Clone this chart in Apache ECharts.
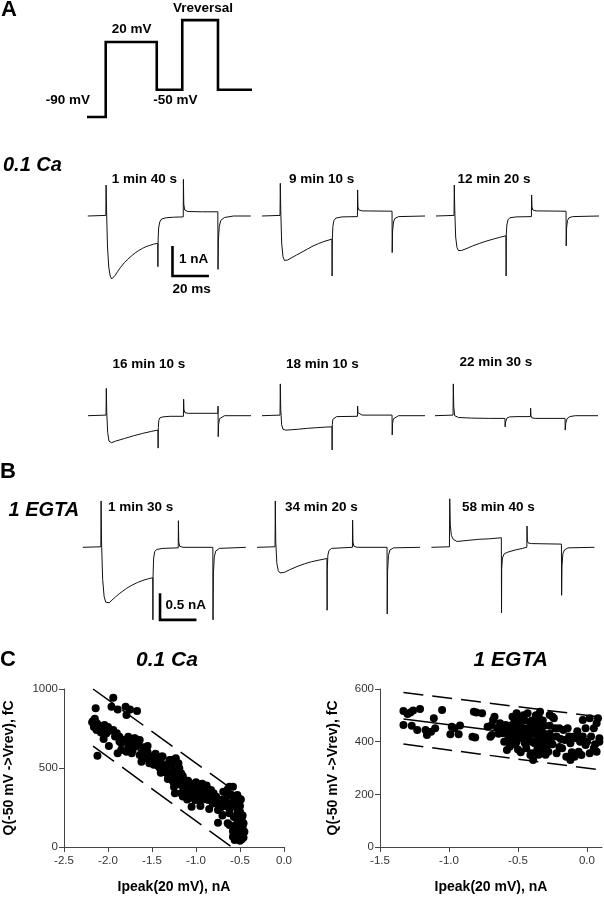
<!DOCTYPE html>
<html><head><meta charset="utf-8">
<script src="https://cdn.jsdelivr.net/npm/echarts@6/dist/echarts.min.js"></script>
<style>html,body{margin:0;padding:0;background:#fff}#c{width:604px;height:900px}</style>
</head><body><div id="c"></div>
<script>
// ---------- DATA ----------
// Voltage protocol (schematic time units, mV); Vrev drawn at ~52 mV
const protoT = [0, 11, 11, 41, 41, 56, 56, 77, 77, 97];
const protoV = [-90, -90, 20, 20, -50, -50, 52, 52, -50, -50];
const protoLabels = ['Vreversal', '20 mV', '-90 mV', '-50 mV'];

// Current traces [time ms, current nA]
const ca_1m40 = [[0,0],[9.9,0.02],[10.05,1.03],[10.3,0.2],[10.8,-1.0],[11.5,-1.7],[12.3,-2.0],[13.1,-2.1],[14,-2.07],[15,-1.98],[16.5,-1.84],[18,-1.71],[20,-1.56],[22,-1.44],[24,-1.33],[26,-1.23],[28,-1.15],[30,-1.08],[32,-1.02],[34,-0.98],[36,-0.94],[38.4,-0.91],[38.5,-1.69],[38.6,-0.8],[38.9,-0.4],[39.5,-0.2],[40.5,-0.1],[43,-0.06],[47,-0.04],[52.4,-0.03],[52.5,1.22],[52.7,0.4],[53.2,0.2],[55,0.15],[63,0.14],[71.4,0.14],[71.5,-1.78],[71.7,-0.8],[72.2,-0.35],[73,-0.15],[75,-0.05],[80,0],[89.5,0]];
const ca_9m10 = [[0,0],[9.9,0.02],[10.05,1.09],[10.3,0.2],[10.8,-0.9],[11.5,-1.35],[12.3,-1.48],[13,-1.5],[14,-1.47],[16,-1.4],[19,-1.3],[22,-1.2],[25,-1.1],[28,-1.0],[31,-0.92],[34,-0.85],[38.4,-0.77],[38.5,-2.0],[38.6,-0.8],[38.9,-0.35],[39.5,-0.15],[40.5,-0.07],[44,-0.03],[52.4,-0.02],[52.5,0.87],[52.7,0.3],[53.2,0.2],[55,0.17],[71.4,0.16],[71.5,-1.22],[71.7,-0.5],[72.2,-0.2],[73,-0.08],[75,-0.02],[89.5,0]];
const ca_12m20 = [[0,0],[9.9,0.02],[10.05,1.03],[10.3,0.2],[10.8,-0.7],[11.5,-1.05],[12.3,-1.15],[13,-1.17],[14,-1.15],[17,-1.08],[20,-1.0],[24,-0.91],[28,-0.83],[32,-0.76],[35,-0.71],[38.4,-0.66],[38.5,-2.0],[38.6,-0.6],[38.9,-0.3],[39.5,-0.13],[40.5,-0.06],[44,-0.03],[52.4,-0.02],[52.5,0.7],[52.7,0.3],[53.2,0.2],[55,0.17],[71.4,0.16],[71.5,-1.0],[71.7,-0.4],[72.2,-0.15],[73,-0.06],[75,-0.02],[89.5,0]];
const ca_16m10 = [[0,0],[9.9,0.02],[10.05,0.91],[10.3,0.1],[10.8,-0.55],[11.5,-0.85],[12.3,-0.91],[13,-0.9],[15,-0.85],[20,-0.76],[25,-0.67],[30,-0.59],[35,-0.52],[38.4,-0.48],[38.5,-1.08],[38.6,-0.4],[38.9,-0.15],[39.5,-0.07],[41,-0.04],[45,-0.02],[52.4,-0.02],[52.5,0.55],[52.7,0.2],[53.2,0.1],[55,0.08],[71.3,0.08],[71.4,0.32],[71.5,-0.7],[71.7,-0.3],[72.2,-0.1],[73,-0.04],[75,0],[89.5,0]];
const ca_18m10 = [[0,0],[9.9,0.02],[10.05,1.06],[10.3,0.2],[10.8,-0.3],[11.5,-0.45],[12.3,-0.49],[13,-0.48],[16,-0.47],[20,-0.45],[25,-0.42],[30,-0.4],[35,-0.38],[38.4,-0.37],[38.5,-1.14],[38.6,-0.3],[38.9,-0.12],[39.5,-0.06],[41,-0.03],[52.4,-0.02],[52.5,0.32],[52.7,0.1],[53.2,0.04],[55,0.02],[71.4,0.02],[71.5,-0.64],[71.7,-0.25],[72.2,-0.1],[73,-0.04],[75,0],[89.5,0]];
const ca_22m30 = [[0,0],[9.9,0.02],[10.05,1.06],[10.3,0.3],[10.8,0.0],[11.5,-0.05],[13,-0.06],[20,-0.08],[30,-0.09],[38.4,-0.09],[38.5,-0.37],[38.8,-0.2],[39.5,-0.08],[41,-0.04],[45,-0.03],[52.4,-0.03],[52.5,0.25],[52.7,0.0],[53.2,-0.07],[55,-0.09],[71.4,-0.09],[71.5,-0.48],[71.8,-0.25],[72.5,-0.1],[74,-0.03],[77,0],[89.5,0]];
const egta_1m30 = [[0,0],[9.9,0.01],[10.05,0.87],[10.3,0.1],[10.9,-0.6],[11.7,-0.92],[12.6,-1.03],[13.5,-1.06],[14.5,-1.04],[16,-0.99],[18,-0.93],[20,-0.87],[22,-0.82],[24,-0.77],[27,-0.71],[30,-0.66],[33,-0.62],[36,-0.59],[38.4,-0.57],[38.5,-1.36],[38.6,-0.5],[38.9,-0.2],[39.5,-0.08],[40.5,-0.04],[44,-0.02],[52.4,-0.01],[52.5,0.5],[52.7,0.1],[53.2,0.02],[55,0],[71.4,0],[71.5,-1.36],[71.7,-0.5],[72.2,-0.18],[73,-0.07],[75,-0.02],[89.5,0]];
const egta_34m20 = [[0,0],[9.9,0.01],[10.05,0.87],[10.3,0.1],[10.9,-0.3],[11.7,-0.44],[12.6,-0.48],[13.5,-0.49],[15,-0.47],[18,-0.42],[22,-0.36],[26,-0.31],[30,-0.27],[34,-0.24],[38.4,-0.21],[38.5,-1.18],[38.6,-0.4],[38.9,-0.15],[39.5,-0.06],[41,-0.02],[52.4,0],[52.5,0.51],[52.7,0.1],[53.2,0.02],[55,0],[71.4,0],[71.5,-1.25],[71.7,-0.45],[72.2,-0.15],[73,-0.05],[75,-0.01],[89.5,0]];
const egta_58m40 = [[0,0],[9.9,0.01],[10.05,0.91],[10.4,0.4],[11,0.22],[12,0.15],[14,0.11],[20,0.13],[26,0.15],[32,0.16],[38.4,0.18],[38.5,-1.23],[38.6,-0.4],[39,-0.2],[40,-0.12],[42,-0.09],[46,-0.05],[50,-0.02],[52.4,0],[52.5,0.4],[52.7,0.12],[53.2,0.08],[55,0.07],[71.4,0.06],[71.5,-0.9],[71.7,-0.35],[72.2,-0.12],[73,-0.05],[75,-0.01],[89.5,0]];
const traceLabels = ['1 min 40 s','9 min 10 s','12 min 20 s','16 min 10 s','18 min 10 s','22 min 30 s','1 min 30 s','34 min 20 s','58 min 40 s'];

// Scale bars: [ms, nA]
const scaleBarCa = [[46.5,-1],[46.5,-2],[66.5,-2]];     // 1 nA, 20 ms
const scaleBarEgta = [[42.4,-0.86],[42.4,-1.36],[62.4,-1.36]]; // 0.5 nA, 20 ms

// Panel C scatter: [Ipeak nA, Q fC]
const caPoints = [[-2.14,878],[-1.94,945],[-1.96,888],[-1.89,871],[-1.80,888],[-1.75,871],[-1.79,835],[-1.67,861],
[-2.17,797],[-2.15,811],[-2.13,785],[-2.11,770],[-2.09,766],[-2.04,772],[-2.13,741],[-2.06,745],[-2.02,719],[-1.94,741],[-1.98,735],[-2.16,760],[-2.05,683],[-1.99,639],[-2.12,578],[-2.08,725],
[-1.87,698],[-1.83,677],[-1.77,698],[-1.85,656],[-1.73,667],[-1.69,686],[-1.68,639],[-1.64,677],[-1.72,614],[-1.79,603],[-1.89,593],[-1.60,631],[-1.55,639],[-1.79,677],[-1.87,667],[-1.85,614],[-1.77,635],[-1.73,593],[-1.66,656],[-1.70,688],[-1.60,614],
[-1.64,582],[-1.58,561],[-1.51,572],[-1.45,555],[-1.38,572],[-1.53,530],[-1.43,513],[-1.36,498],[-1.32,525],[-1.28,551],[-1.23,561],[-1.20,530],[-1.26,487],[-1.30,456],[-1.19,498],[-1.17,466],[-1.23,435],[-1.13,424],[-1.26,413],[-1.17,392],[-1.11,382],[-1.07,403],[-1.03,371],[-0.99,392],[-0.96,382],[-0.94,350],[-0.98,340],[-1.05,329],[-1.11,350],[-1.17,340],[-1.24,340],[-1.01,297],[-1.05,255],[-0.88,361],[-0.84,329],[-0.86,297],[-0.81,276],[-0.77,318],[-0.73,287],[-0.71,255],[-0.75,234],[-0.69,350],[-0.64,365],[-0.62,382],[-0.65,323],[-0.58,318],[-0.60,276],[-0.56,255],[-0.53,213],[-0.50,223],[-0.52,171],[-0.48,182],[-0.47,128],[-0.50,108],[-0.54,87],[-0.45,97],[-0.48,49],[-0.56,44],[-0.58,65],[-0.62,139],[-0.64,150],[-0.62,213],[-0.75,154],[-0.58,382],[-0.53,329],
[-1.39,572],[-1.30,551],[-1.26,530],[-1.34,508],[-1.41,498],[-1.51,540],[-1.58,572],[-1.48,520],[-1.35,480],[-1.22,470],[-1.15,450],[-1.09,420],[-1.20,410],[-1.14,370],[-1.08,350],[-1.02,330],[-0.95,320],[-0.92,300],[-0.90,340],[-0.97,360],[-1.00,410],[-0.93,400],[-0.88,390],[-0.83,360],[-0.79,300],[-0.70,300],[-0.67,260],[-0.62,240],[-0.57,190],[-0.55,140],[-0.51,70],[-0.46,60],[-0.53,260],[-0.49,300],[-0.70,200],[-0.85,240],[-0.95,260],[-1.10,300],[-1.25,380],[-1.32,430],[-1.40,470],[-1.46,590],[-1.55,600],[-1.62,540],[-1.90,720],[-2.18,790],[-2.0,760],[-1.92,700],
[-1.28,470],[-1.22,400],[-1.18,430],[-1.12,400],[-1.06,380],[-1.04,340],[-0.99,360],[-0.92,370],[-0.90,320],[-0.86,340],[-1.15,320],[-1.08,310],[-0.97,300],[-1.25,450],[-1.20,450],[-1.34,470],[-1.45,530],[-1.40,540],[-0.80,340],[-0.76,280],[-0.66,290],[-0.60,330],[-0.55,300],[-0.50,260],[-0.47,200],[-0.46,150],[-0.52,120],[-0.58,100],[-0.55,60],[-0.50,40]];
const egtaPoints = [[-1.33,516],[-1.28,511],[-1.26,518],[-1.21,524],[-1.30,505],[-1.05,520],[-1.11,489],[-1.27,460],[-1.23,444],[-1.17,444],[-1.16,425],[-1.13,438],[-1.10,451],[-1.33,463],[-0.98,457],[-0.96,451],[-0.92,461],[-0.99,428],[-0.93,428],[-0.82,514],[-0.80,511],[-0.76,508],[-0.83,419],[-0.81,416],[-0.70,419],[-0.72,457],[-0.69,463],[-0.67,495],[-0.68,482],[-0.65,451],[-0.69,425],[-0.59,463],[-0.61,432],[-0.57,413],[-0.56,381],[-0.58,368],[-0.54,495],[-0.51,508],[-0.50,489],[-0.49,457],[-0.46,438],[-0.47,413],[-0.51,400],[-0.45,394],[-0.44,375],[-0.40,356],[-0.41,349],[-0.43,508],[-0.41,470],[-0.39,457],[-0.37,476],[-0.35,495],[-0.34,514],[-0.33,451],[-0.34,425],[-0.32,406],[-0.35,387],[-0.33,368],[-0.38,394],[-0.29,387],[-0.28,362],[-0.26,413],[-0.23,451],[-0.25,495],[-0.20,451],[-0.17,444],[-0.14,451],[-0.12,394],[-0.16,406],[-0.18,375],[-0.15,343],[-0.10,419],[-0.08,413],[-0.09,343],[-0.06,362],[-0.01,451],[0.02,489],[0.05,451],[-0.01,387],[0.05,375],[0.07,362],[0.08,489],[0.07,470],[0.09,413],[0.02,356],[-0.04,349],[-0.22,356],[-0.12,330],[-0.05,400],[-0.27,501],[-0.03,482],[-0.24,489],
[-0.55,440],[-0.52,430],[-0.48,470],[-0.45,480],[-0.42,420],[-0.40,400],[-0.38,430],[-0.36,440],[-0.36,370],[-0.31,430],[-0.30,410],[-0.27,430],[-0.25,390],[-0.22,420],[-0.20,380],[-0.19,410],[-0.13,420],[-0.11,360],[-0.07,440],[-0.03,420],[0.0,400],[0.03,420],[0.09,400],[0.06,390],[-0.62,450],[-0.63,470],[-0.53,470],[-0.50,420],[-0.44,450],[-0.39,330],[-0.30,350],[-0.60,400],[-0.48,360],[-0.36,460],[-0.32,480],[-0.37,500],
[-0.58,440],[-0.56,460],[-0.54,420],[-0.52,390],[-0.50,370],[-0.47,440],[-0.45,420],[-0.43,400],[-0.42,440],[-0.40,480],[-0.38,460],[-0.36,410],[-0.35,350],[-0.33,390],[-0.31,460],[-0.30,380],[-0.28,400],[-0.27,460],[-0.52,450],[-0.46,500],[-0.55,400],[-0.64,430]];

// Fit and confidence lines [Ipeak, Q]
const caFit = [[-2.17,820],[-0.45,129]];
const caUpper = [[-2.17,1000],[-0.466,316]];
const caLower = [[-2.17,639],[-0.594,0]];
const egtaFit = [[-1.33,486],[0.107,391]];
const egtaUpper = [[-1.33,587],[0.107,493]];
const egtaLower = [[-1.33,391],[0.107,292]];

const caXTicks = [-2.5,-2.0,-1.5,-1.0,-0.5,0.0];
const egtaXTicks = [-1.5,-1.0,-0.5,0.0];

// ---------- LAYOUT ----------
const FONT = '"Liberation Sans", Arial, sans-serif';
const traces = [ca_1m40, ca_9m10, ca_12m20, ca_16m10, ca_18m10, ca_22m30, egta_1m30, egta_34m20, egta_58m40];
const traceBoxes = [
  {left:87.8, top:171, h:120, ymin:-2.5, ymax:1.5},
  {left:262, top:171, h:120, ymin:-2.5, ymax:1.5},
  {left:436, top:171, h:120, ymin:-2.5, ymax:1.5},
  {left:88, top:370.7, h:90, ymin:-1.5, ymax:1.5},
  {left:262, top:370.7, h:90, ymin:-1.5, ymax:1.5},
  {left:435, top:370.7, h:90, ymin:-1.5, ymax:1.5},
  {left:82.8, top:494, h:133.3, ymin:-1.5, ymax:1.0},
  {left:257, top:494, h:133.3, ymin:-1.5, ymax:1.0},
  {left:431.4, top:494, h:133.3, ymin:-1.5, ymax:1.0}
];
const labelPos = [[111.7,179.3],[289,179.3],[457.6,179.3],[112.5,364.3],[286,364.3],[459.5,362.3],[108,507.7],[285,507.7],[462,507.7]];

const grid = [], xAxis = [], yAxis = [], series = [];
// protocol grid 0
grid.push({left:87, top:14.7, width:165, height:105.7});
xAxis.push({type:'value', gridIndex:0, min:0, max:97, show:false});
yAxis.push({type:'value', gridIndex:0, min:-95, max:60, show:false});
series.push({type:'line', xAxisIndex:0, yAxisIndex:0, data: protoT.map((t,i)=>[t, protoV[i]]),
  showSymbol:false, symbol:'none', lineStyle:{color:'#000', width:2.6, join:'miter', cap:'butt'}, silent:true});

traceBoxes.forEach((b, i) => {
  const gi = grid.length;
  grid.push({left:b.left, top:b.top, width:163, height:b.h});
  xAxis.push({type:'value', gridIndex:gi, min:0, max:89.5, show:false});
  yAxis.push({type:'value', gridIndex:gi, min:b.ymin, max:b.ymax, show:false});
  series.push({type:'line', xAxisIndex:gi, yAxisIndex:gi, data:traces[i], showSymbol:false, symbol:'none',
    lineStyle:{color:'#111', width:1}, silent:true, clip:false});
  if (i === 0) series.push({type:'line', xAxisIndex:gi, yAxisIndex:gi, data:scaleBarCa, symbol:'none',
    lineStyle:{color:'#000', width:2.6, join:'miter'}, silent:true});
  if (i === 6) series.push({type:'line', xAxisIndex:gi, yAxisIndex:gi, data:scaleBarEgta, symbol:'none',
    lineStyle:{color:'#000', width:2.6, join:'miter'}, silent:true});
});

function scatterAxes(gi, xmin, xmax, ticks, ymin, ymax, yint, yGap) {
  const axisLine = {show:true, onZero:false, lineStyle:{color:'#444', width:1}};
  xAxis.push({type:'value', gridIndex:gi, min:xmin, max:xmax, splitLine:{show:false},
    axisLine, axisTick:{show:true, length:5, customValues:ticks, lineStyle:{color:'#444'}},
    axisLabel:{customValues:ticks, formatter:v=>Number(v).toFixed(1), color:'#333', fontSize:11.5, fontFamily:FONT, margin:8},
    name:'Ipeak(20 mV), nA', nameLocation:'middle', nameGap:33,
    nameTextStyle:{fontWeight:'bold', fontSize:14, fontFamily:FONT, color:'#000'}});
  yAxis.push({type:'value', gridIndex:gi, min:ymin, max:ymax, interval:yint, splitLine:{show:false},
    axisLine, axisTick:{show:true, length:5, lineStyle:{color:'#444'}},
    axisLabel:{formatter:v=>String(v), color:'#333', fontSize:11.5, fontFamily:FONT, margin:6},
    name:'Q(-50 mV ->Vrev), fC', nameLocation:'middle', nameGap:yGap,
    nameTextStyle:{fontWeight:'bold', fontSize:14, fontFamily:FONT, color:'#000'}});
}
const lineS = (gi, data, dash) => ({type:'line', xAxisIndex:gi, yAxisIndex:gi, data, symbol:'none', silent:true,
  lineStyle:{color:'#000', width:1.5, type:dash}, z:1});

// left scatter
let gi = grid.length;
grid.push({left:64, top:689, width:220, height:158});
scatterAxes(gi, -2.5, 0, caXTicks, 0, 1000, 500, 48);
series.push(lineS(gi, caUpper, [26,10]), lineS(gi, caLower, [26,10]), lineS(gi, caFit, 'solid'));
series.push({type:'scatter', xAxisIndex:gi, yAxisIndex:gi, data:caPoints, symbolSize:8, itemStyle:{color:'#000', opacity:1}, z:3, silent:true});
// right scatter
gi = grid.length;
grid.push({left:380, top:689, width:222, height:158});
scatterAxes(gi, -1.5, 0.109, egtaXTicks, 0, 600, 200, 40);
series.push(lineS(gi, egtaUpper, [20,9]), lineS(gi, egtaLower, [20,9]), lineS(gi, egtaFit, 'solid'));
series.push({type:'scatter', xAxisIndex:gi, yAxisIndex:gi, data:egtaPoints, symbolSize:8, itemStyle:{color:'#000', opacity:1}, z:3, silent:true});

// ---------- TEXT ----------
function txt(text, x, y, size, opts) {
  opts = opts || {};
  return {type:'text', x, y, silent:true, z:10, style:{text, fill:'#000', fontSize:size, fontWeight:'bold',
    fontStyle: opts.italic ? 'italic' : 'normal', fontFamily:FONT,
    textAlign: opts.align || 'left', align: opts.align || 'left',
    textVerticalAlign:'middle', verticalAlign:'middle'}};
}
const graphic = [
  txt('A', 1, 10, 22), txt('B', 0, 471.7, 22), txt('C', 0, 660, 22),
  txt(protoLabels[0], 203, 8, 13.5, {align:'center'}),
  txt(protoLabels[1], 131.7, 29.3, 13.5, {align:'center'}),
  txt(protoLabels[2], 67.8, 100, 13.5, {align:'center'}),
  txt(protoLabels[3], 175.3, 100, 13.5, {align:'center'}),
  txt('0.1 Ca', 3, 165, 20, {italic:true}),
  txt('1 EGTA', 8.5, 510.7, 20, {italic:true}),
  txt('1 nA', 179, 259.3, 13.5), txt('20 ms', 172.6, 289.3, 13.5),
  txt('0.5 nA', 165.6, 605.7, 13.5),
  txt('0.1 Ca', 167, 660, 21, {italic:true, align:'center'}),
  txt('1 EGTA', 510.7, 660, 21, {italic:true, align:'center'})
];
traceLabels.forEach((l, i) => graphic.push(txt(l, labelPos[i][0], labelPos[i][1], 13.5)));

const chart = echarts.init(document.getElementById('c'), null, {renderer:'canvas'});
chart.setOption({animation:false, backgroundColor:'#fff', grid, xAxis, yAxis, series, graphic});
</script></body></html>
